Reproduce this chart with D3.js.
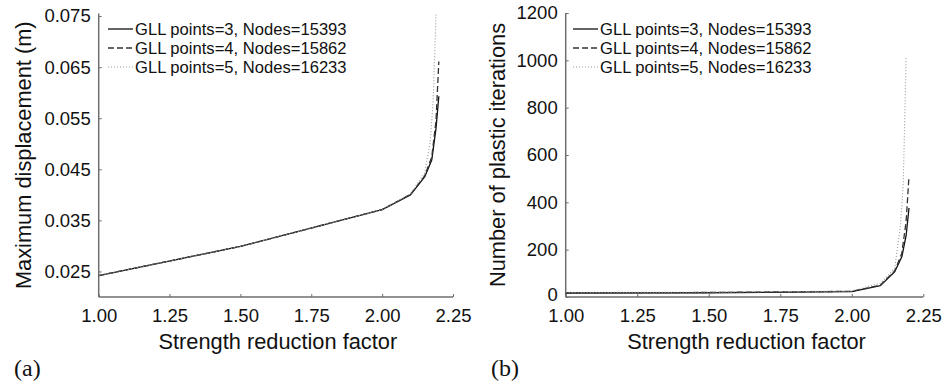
<!DOCTYPE html>
<html><head><meta charset="utf-8">
<script src="https://cdn.jsdelivr.net/npm/d3@7"></script>
<style>
html,body{margin:0;padding:0;background:#fff;}
svg{display:block;font-family:"Liberation Sans",Arial,Helvetica,sans-serif;}
</style></head>
<body><svg id="c" width="942" height="386"></svg>
<script>
// ---- data ----
const xTicks = [1.00, 1.25, 1.50, 1.75, 2.00, 2.25];
const dispTicks = [0.025, 0.035, 0.045, 0.055, 0.065, 0.075];
const iterTicks = [0, 200, 400, 600, 800, 1000, 1200];
const seriesNames = ["GLL points=3, Nodes=15393", "GLL points=4, Nodes=15862", "GLL points=5, Nodes=16233"];

const srf34 = [1.0, 1.5, 2.0, 2.1, 2.15, 2.175, 2.19, 2.2];
const srf5  = [1.0, 1.5, 2.0, 2.1, 2.15, 2.17, 2.18, 2.19];

const disp3 = [0.0242, 0.0299, 0.0371, 0.0400, 0.0435, 0.0468, 0.0530, 0.0593];
const disp4 = [0.0242, 0.0299, 0.0371, 0.0401, 0.0437, 0.0474, 0.0545, 0.0661];
const disp5 = [0.0242, 0.0299, 0.0371, 0.0402, 0.0443, 0.0505, 0.0585, 0.0753];

const iter3 = [17, 18, 23, 48, 107, 170, 260, 376];
const iter4 = [18, 19, 24, 50, 110, 185, 320, 510];
const iter5 = [19, 20, 25, 58, 120, 300, 480, 1016];

// ---- styles ----
const lineStyles = [
  {stroke:"#111", width:1.3, dash:null},
  {stroke:"#333", width:1.3, dash:"6,3"},
  {stroke:"#999", width:1.1, dash:"1,2"}
];
const axisColor = "#6e6e6e";

const svg = d3.select("#c");

function panel(opt){
  const g = svg.append("g");
  const x = d3.scaleLinear().domain([1, 2.25]).range([opt.x0, opt.x1]);
  const y = d3.scaleLinear().domain(opt.yDomain).range([opt.yBottom, opt.yTop]);

  const xa = d3.axisBottom(x).tickValues(xTicks).tickSize(-3).tickPadding(7).tickFormat(d3.format(".2f"));
  const ya = d3.axisLeft(y).tickValues(opt.yTicks).tickSize(-3).tickPadding(8).tickFormat(opt.yFormat);
  const gx = g.append("g").attr("transform", `translate(0,${opt.yBottom})`).call(xa);
  const gy = g.append("g").attr("transform", `translate(${opt.x0},0)`).call(ya);
  [gx, gy].forEach(a => {
    a.select(".domain").attr("stroke", axisColor).attr("stroke-width", 1.5);
    a.selectAll(".tick line").attr("stroke", axisColor).attr("stroke-width", 1);
    a.selectAll(".tick text").attr("fill", "#111").attr("font-size", 18.5)
      .attr("font-family", "'Liberation Sans',Arial,sans-serif");
  });
  gx.select(".domain").attr("d", `M${opt.x0},0H${opt.x1}`);
  gy.select(".domain").attr("d", `M0,${opt.yBottom}V${opt.yTop}`);
  gx.selectAll(".tick text").attr("dy", "0.95em");
  // bottom y label sits just above the x labels
  gy.selectAll(".tick text").filter(d => d === opt.yDomain[0]).attr("dy", "0.2em");

  opt.series.forEach((s, i) => {
    const line = d3.line().x((d, j) => x(s.x[j])).y(d => y(d));
    const p = g.append("path").datum(s.y).attr("d", line)
      .attr("fill", "none").attr("stroke", lineStyles[i].stroke)
      .attr("stroke-width", lineStyles[i].width).attr("stroke-linejoin", "round");
    if (lineStyles[i].dash) p.attr("stroke-dasharray", lineStyles[i].dash);
  });

  seriesNames.forEach((name, i) => {
    const ly = opt.legendY + i * 19;
    const l = g.append("line").attr("x1", opt.legendX).attr("x2", opt.legendX + 25)
      .attr("y1", ly).attr("y2", ly).attr("stroke", lineStyles[i].stroke)
      .attr("stroke-width", lineStyles[i].width);
    if (lineStyles[i].dash) l.attr("stroke-dasharray", lineStyles[i].dash);
    g.append("text").attr("x", opt.legendX + 27).attr("y", ly).attr("dy", "0.36em")
      .attr("font-size", 16.6).attr("fill", "#111").text(name);
  });

  g.append("text").attr("x", (opt.x0 + opt.x1) / 2 + 2).attr("y", 349)
    .attr("text-anchor", "middle").attr("font-size", 21.8).attr("fill", "#111")
    .text("Strength reduction factor");
  g.append("text")
    .attr("transform", `translate(${opt.yTitleX},${(opt.yTop + opt.yBottom) / 2}) rotate(-90)`)
    .attr("text-anchor", "middle").attr("font-size", 21.8).attr("fill", "#111")
    .text(opt.yTitle);

  g.append("text").attr("x", opt.labelX).attr("y", 376)
    .attr("font-family", "'Liberation Serif','Times New Roman',serif")
    .attr("font-size", 24).attr("fill", "#111").text(opt.label);
}

panel({
  x0: 98.7, x1: 453, yBottom: 297, yTop: 13.5,
  yDomain: [0.02, 0.0755], yTicks: dispTicks, yFormat: d3.format(".3f"),
  series: [{x: srf34, y: disp3}, {x: srf34, y: disp4}, {x: srf5, y: disp5}],
  legendX: 108, legendY: 29,
  yTitle: "Maximum displacement (m)", yTitleX: 31, label: "(a)", labelX: 14
});

panel({
  x0: 565.7, x1: 923.3, yBottom: 297, yTop: 13,
  yDomain: [0, 1200], yTicks: iterTicks, yFormat: d3.format("d"),
  series: [{x: srf34, y: iter3}, {x: srf34, y: iter4}, {x: srf5, y: iter5}],
  legendX: 573, legendY: 29,
  yTitle: "Number of plastic iterations", yTitleX: 505, label: "(b)", labelX: 491
});
</script></body></html>
